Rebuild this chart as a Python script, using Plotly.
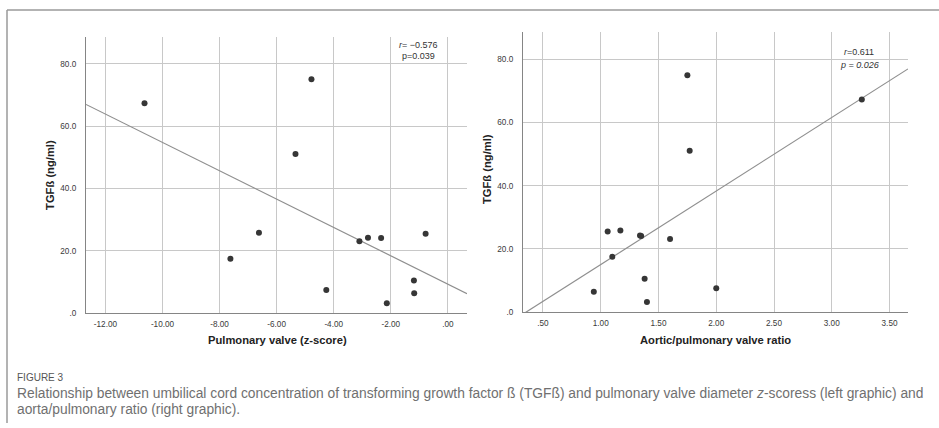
import numpy as np
import plotly.graph_objects as go

# TGF-beta concentration (ng/ml) per newborn
tgf_beta = [67.3, 75.0, 51.1, 25.8, 17.5, 7.5, 23.1, 24.2, 24.1, 3.2, 25.5, 10.5, 6.4]
# pulmonary valve diameter z-score
pv_zscore = [-10.63, -4.78, -5.34, -6.62, -7.62, -4.26, -3.10, -2.80, -2.34, -2.14, -0.78, -1.19, -1.18]
# aortic / pulmonary valve ratio
ao_pv_ratio = [3.26, 1.75, 1.77, 1.17, 1.10, 2.00, 1.60, 1.34, 1.35, 1.40, 1.06, 1.38, 0.94]

x1_ticks = [-12, -10, -8, -6, -4, -2, 0]
x1_labels = ["-12.00", "-10.00", "-8.00", "-6.00", "-4.00", "-2.00", ".00"]
x2_ticks = [0.5, 1.0, 1.5, 2.0, 2.5, 3.0, 3.5]
x2_labels = [".50", "1.00", "1.50", "2.00", "2.50", "3.00", "3.50"]
y_ticks = [0, 20, 40, 60, 80]
y_labels = [".0", "20.0", "40.0", "60.0", "80.0"]

x1_range = [-12.68, 0.67]
x2_range = [0.327, 3.66]
y_range = [0, 88.7]

W, H = 939, 428
GRID = "#c8c8c8"
AXIS = "#858585"
DOT = "#363636"
FIT = "#8f8f8f"


def fit_line(xs, ys, xr):
    slope, intercept = np.polyfit(xs, ys, 1)
    gx = np.linspace(xr[0], xr[1], 50)
    return gx, intercept + slope * gx


fig = go.Figure()

for xs, xr, xa, ya in [(pv_zscore, x1_range, "x", "y"), (ao_pv_ratio, x2_range, "x2", "y2")]:
    gx, gy = fit_line(np.array(xs), np.array(tgf_beta), xr)
    fig.add_trace(go.Scatter(x=gx, y=gy, mode="lines", line=dict(color=FIT, width=1.2),
                             xaxis=xa, yaxis=ya, showlegend=False, hoverinfo="skip"))
    fig.add_trace(go.Scatter(x=xs, y=tgf_beta, mode="markers",
                             marker=dict(color=DOT, size=6, line=dict(width=0)),
                             xaxis=xa, yaxis=ya, showlegend=False))

tick_font = dict(family="Liberation Sans", size=8.2, color="#3a3a3a")


def xaxis(domain, rng, tv, tt, anchor):
    return dict(domain=domain, range=rng, tickvals=tv, ticktext=tt, anchor=anchor,
                showgrid=True, gridcolor=GRID, gridwidth=1, zeroline=False,
                showline=True, linecolor=AXIS, linewidth=1.2, ticks="",
                tickfont=tick_font, ticklabelstandoff=3, fixedrange=True)


def yaxis(domain, anchor):
    return dict(domain=domain, range=y_range, tickvals=y_ticks, ticktext=y_labels, anchor=anchor,
                showgrid=True, gridcolor=GRID, gridwidth=1, zeroline=False,
                showline=True, linecolor=AXIS, linewidth=1.2, ticks="",
                tickfont=tick_font, ticklabelstandoff=7, fixedrange=True)


def px_x(p):
    return p / W


def px_y(p):
    return 1 - p / H


title_font = dict(family="Liberation Sans", size=11.2, color="#222")
ann = []
ann.append(dict(text="<b>Pulmonary valve (z-score)</b>", x=px_x(277), y=px_y(344), font=title_font))
ann.append(dict(text="<b>TGFß (ng/ml)</b>", x=px_x(50), y=px_y(177), textangle=-90, font=title_font))
ann.append(dict(text="<b>Aortic/pulmonary valve ratio</b>", x=px_x(715), y=px_y(344), font=title_font))
ann.append(dict(text="<b>TGFß (ng/ml)</b>", x=px_x(487), y=px_y(171), textangle=-90, font=title_font))

stat_font = dict(family="Liberation Sans", size=9, color="#333")
ann.append(dict(text="<i>r</i>= −0.576", x=px_x(418), y=px_y(46), font=stat_font))
ann.append(dict(text="p=0.039", x=px_x(418), y=px_y(56.5), font=stat_font))
ann.append(dict(text="<i>r</i>=0.611", x=px_x(859), y=px_y(53), font=stat_font))
ann.append(dict(text="<i>p = 0.026</i>", x=px_x(859), y=px_y(66), font=stat_font))

ann.append(dict(text="FIGURE 3", x=px_x(15), y=px_y(382), xanchor="left",
                font=dict(family="Liberation Sans", size=10, color="#555")))
cap_font = dict(family="Liberation Sans", size=13.8, color="#707070")
ann.append(dict(text="Relationship between umbilical cord concentration of transforming growth factor ß (TGFß) "
                     "and pulmonary valve diameter <i>z</i>-scoress (left graphic) and",
                x=px_x(15), y=px_y(398), xanchor="left", font=cap_font))
ann.append(dict(text="aorta/pulmonary ratio (right graphic).",
                x=px_x(15), y=px_y(414), xanchor="left", font=cap_font))

for a in ann:
    a.setdefault("xanchor", "center")
    a.update(xref="paper", yref="paper", yanchor="middle", showarrow=False)

fig.update_layout(
    width=W, height=H,
    margin=dict(l=0, r=0, t=0, b=0),
    paper_bgcolor="white", plot_bgcolor="white",
    xaxis=xaxis([px_x(86), px_x(467)], x1_range, x1_ticks, x1_labels, "y"),
    yaxis=yaxis([px_y(317), px_y(37)], "x"),
    xaxis2=xaxis([px_x(523), px_x(908)], x2_range, x2_ticks, x2_labels, "y2"),
    yaxis2=yaxis([px_y(315.7), px_y(32.3)], "x2"),
    annotations=ann,
    shapes=[
        dict(type="line", xref="paper", yref="paper", x0=px_x(7), x1=1, y0=px_y(10), y1=px_y(10),
             line=dict(color="#9a9a9a", width=1.5)),
        dict(type="line", xref="paper", yref="paper", x0=px_x(7), x1=px_x(7), y0=px_y(10), y1=0,
             line=dict(color="#9a9a9a", width=1.5)),
    ],
)

fig.write_html("out.html")
